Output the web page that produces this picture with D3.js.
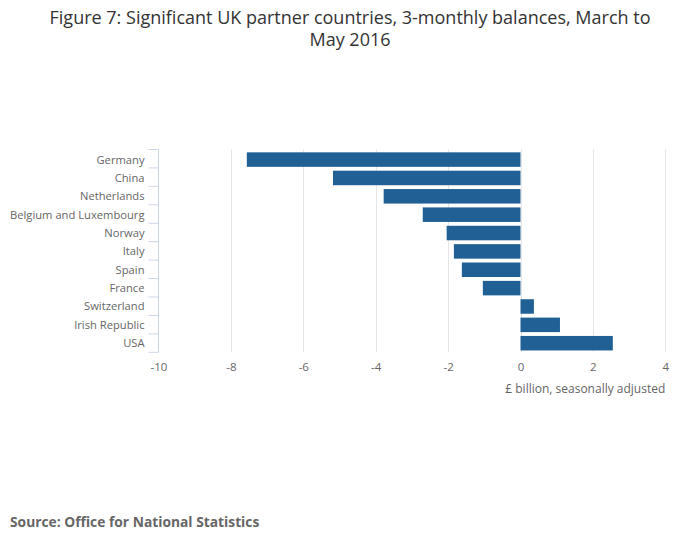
<!DOCTYPE html>
<html><head><meta charset="utf-8">
<script src="https://cdn.jsdelivr.net/npm/d3@7"></script>
<style>body{margin:0;background:#fff;} svg{display:block;font-family:"Open Sans",sans-serif;}</style>
</head><body>
<svg id="c" width="700" height="549"></svg>
<script>
const categories = ["Germany","China","Netherlands","Belgium and Luxembourg","Norway","Italy","Spain","France","Switzerland","Irish Republic","USA"];
const values = [-7.56,-5.18,-3.78,-2.70,-2.04,-1.84,-1.62,-1.04,0.37,1.09,2.55];
const xTicks = [-10,-8,-6,-4,-2,0,2,4];
const titleLines = ["Figure 7: Significant UK partner countries, 3-monthly balances, March to","May 2016"];
const xTitle = "£ billion, seasonally adjusted";
const source = "Source: Office for National Statistics";

const svg = d3.select("#c");
const L = 158.5, R = 665.3, T = 149.5, B = 352.3;
const x = d3.scaleLinear().domain([-10,4]).range([L,R]);
const y = d3.scaleBand().domain(categories).range([T+1,B]).paddingInner(0.21).paddingOuter(0.1);

// title
svg.append("text").attr("x",350).attr("y",24).attr("text-anchor","middle")
  .attr("font-size",18).attr("fill","#333")
  .selectAll("tspan").data(titleLines).join("tspan")
  .attr("x",350).attr("dy",(d,i)=>i?22:0).text(d=>d);

// gridlines
svg.append("g").selectAll("line").data(xTicks.filter(d=>d!==-10)).join("line")
  .attr("x1",d=>Math.round(x(d))+0.5).attr("x2",d=>Math.round(x(d))+0.5)
  .attr("y1",T).attr("y2",B).attr("stroke","#e6e6e6").attr("stroke-width",1);

// bars
const z = x(0);
svg.append("g").selectAll("rect").data(values).join("rect")
  .attr("x",d=>Math.min(x(d),z)).attr("width",d=>Math.abs(x(d)-z))
  .attr("y",(d,i)=>y(categories[i])).attr("height",y.bandwidth())
  .attr("fill","#206095");

// y axis
const yAxis = svg.append("g").attr("transform",`translate(${L},0)`);
yAxis.append("line").attr("x1",0).attr("x2",0).attr("y1",T).attr("y2",B).attr("stroke","#ccd6eb");
const step = (B-T)/categories.length;
yAxis.selectAll("line.t").data(d3.range(categories.length+1)).join("line").attr("class","t")
  .attr("x1",-10).attr("x2",0).attr("y1",i=>T+i*step).attr("y2",i=>T+i*step).attr("stroke","#ccd6eb");
yAxis.selectAll("text").data(categories).join("text")
  .attr("x",-14).attr("y",d=>y(d)+y.bandwidth()/2).attr("dy","0.35em")
  .attr("text-anchor","end").attr("font-size",11.2).attr("fill","#666").text(d=>d);

// x axis labels
const xAxis = d3.axisBottom(x).tickValues(xTicks).tickSize(0).tickPadding(0).tickFormat(d=>String(d));
const gx = svg.append("g").attr("transform",`translate(0,${B})`).call(xAxis);
gx.select(".domain").remove();
gx.selectAll("text").attr("y",19).attr("dy",0).attr("font-size",11.5).attr("fill","#666")
  .attr("font-family","Open Sans, sans-serif");

svg.append("text").attr("x",R).attr("y",393).attr("text-anchor","end")
  .attr("font-size",12).attr("fill","#666").text(xTitle);

svg.append("text").attr("x",10).attr("y",527).attr("font-size",13.8).attr("font-weight","bold")
  .attr("fill","#666").text(source);
</script>
</body></html>
